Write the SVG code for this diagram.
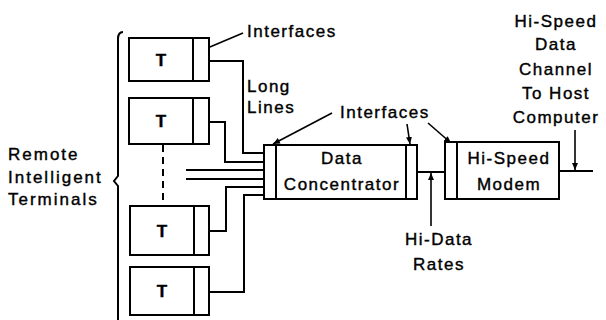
<svg xmlns="http://www.w3.org/2000/svg" width="606" height="320" viewBox="0 0 606 320">
<defs>
<marker id="ah" markerWidth="8" markerHeight="8" refX="7" refY="4" orient="auto" markerUnits="userSpaceOnUse">
<path d="M0,1 L7,4 L0,7 Z" fill="#000"/>
</marker>
<style>
.b{fill:#fff;stroke:#000;stroke-width:2}
.l{fill:none;stroke:#000;stroke-width:2}
.a{fill:none;stroke:#000;stroke-width:1.6;marker-end:url(#ah)}
text{font-family:"Liberation Sans",Arial,sans-serif;font-size:17px;letter-spacing:1.5px;fill:#000;stroke:#000;stroke-width:0.4}
.c{text-anchor:middle}
.w{letter-spacing:2px}
.t{font-weight:bold;letter-spacing:0}
</style>
</defs>
<rect width="606" height="320" fill="#fff"/>

<g id="connectors">
<path class="l" d="M209,61 H243 V153 H264"/>
<path class="l" d="M209,122 H225 V162 H264"/>
<path class="l" d="M186,170 H264"/>
<path class="l" d="M186,179 H264"/>
<path class="l" d="M209,231 H226 V187 H264"/>
<path class="l" d="M209,292 H244 V195 H264"/>
<path class="l" d="M163,145 V206" stroke-dasharray="7 5"/>
<path class="l" d="M417,172 H445"/>
<path class="l" d="M559,171 H593"/>
<path class="a" d="M243,33 L198,52"/>
<path class="a" d="M332,113 L273,144"/>
<path class="a" d="M407,124 L410,144"/>
<path class="a" d="M428,123 L451,143"/>
<path class="a" d="M431,226 V173"/>
<path class="a" d="M575,130 V170"/>
<path class="l" d="M123,32 Q118,32 118,39 V176 L114,181 L118,186 V320"/>
</g>

<g id="t1"><rect class="b" x="129" y="38" width="80" height="43"/><line class="l" x1="193" y1="38" x2="193" y2="81"/><text class="c t" x="161" y="66">T</text></g>
<g id="t2"><rect class="b" x="129" y="98" width="80" height="46"/><line class="l" x1="193" y1="98" x2="193" y2="144"/><text class="c t" x="161" y="127">T</text></g>
<g id="t3"><rect class="b" x="130" y="206" width="79" height="49"/><line class="l" x1="194" y1="206" x2="194" y2="255"/><text class="c t" x="162" y="237">T</text></g>
<g id="t4"><rect class="b" x="130" y="267" width="79" height="48"/><line class="l" x1="194" y1="267" x2="194" y2="315"/><text class="c t" x="162" y="297">T</text></g>

<g id="concentrator"><rect class="b" x="264" y="145" width="153" height="54"/><line class="l" x1="276" y1="145" x2="276" y2="199"/><line class="l" x1="406" y1="145" x2="406" y2="199"/><text class="c" x="342" y="164">Data</text><text class="c" x="342" y="190">Concentrator</text></g>

<g id="modem"><rect class="b" x="445" y="142" width="114" height="57"/><line class="l" x1="457" y1="142" x2="457" y2="199"/><text class="c" x="509" y="164">Hi-Speed</text><text class="c" x="509" y="190">Modem</text></g>

<g id="labels">
<text x="247" y="37">Interfaces</text>
<text x="247" y="92">Long</text>
<text x="247" y="113">Lines</text>
<text x="340" y="118">Interfaces</text>
<text class="w" x="8" y="160">Remote</text>
<text class="w" x="8" y="183">Intelligent</text>
<text class="w" x="8" y="205">Terminals</text>
<text class="c" x="439" y="245">Hi-Data</text>
<text class="c" x="439" y="270">Rates</text>
<text class="c" x="556" y="27">Hi-Speed</text>
<text class="c" x="556" y="50">Data</text>
<text class="c" x="556" y="75">Channel</text>
<text class="c" x="556" y="99">To Host</text>
<text class="c" x="556" y="123">Computer</text>
</g>
</svg>
